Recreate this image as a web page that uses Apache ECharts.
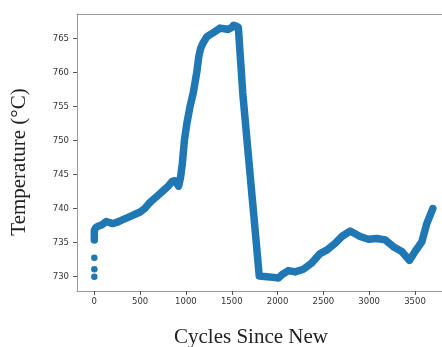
<!DOCTYPE html>
<html>
<head>
<meta charset="utf-8">
<script src="https://cdn.jsdelivr.net/npm/echarts@6/dist/echarts.min.js"></script>
<style>
  html, body { margin: 0; padding: 0; background: #fff; }
  #chart { width: 442px; height: 347px; }
</style>
</head>
<body>
<div id="chart"></div>
<script>
// cycles / temperature
const cycles = [0, 0, 5, 15, 40, 80, 130, 200, 250, 300, 350, 400, 450, 500, 550, 600, 650, 700, 750, 800, 850, 880, 900, 920, 940, 960, 983, 1010, 1045, 1080, 1118, 1140, 1160, 1190, 1227, 1260, 1296, 1340, 1372, 1420, 1460, 1500, 1520, 1550, 1572, 1620, 1680, 1740, 1800, 1882, 1954, 2009, 2045, 2118, 2191, 2282, 2373, 2464, 2537, 2628, 2701, 2792, 2901, 2992, 3083, 3174, 3264, 3356, 3439, 3501, 3574, 3629, 3694];
const temps = [735.4, 736.8, 737.0, 737.2, 737.4, 737.6, 738.1, 737.8, 738.0, 738.3, 738.6, 738.9, 739.2, 739.5, 740.0, 740.8, 741.4, 742.0, 742.6, 743.2, 744.0, 744.1, 743.9, 743.3, 744.5, 746.5, 750.0, 752.5, 755.0, 757.0, 760.0, 762.3, 763.5, 764.4, 765.2, 765.5, 765.8, 766.2, 766.5, 766.4, 766.3, 766.6, 766.9, 766.8, 766.6, 757.0, 748.0, 739.1, 730.1, 730.0, 729.9, 729.8, 730.25, 730.9, 730.7, 731.1, 732.0, 733.4, 733.9, 734.9, 735.9, 736.7, 735.9, 735.5, 735.6, 735.4, 734.4, 733.7, 732.4, 733.7, 735.1, 737.8, 740.0];
// the few early outliers at cycle 0
const outlierCycles = [0, 0, 0];
const outlierTemps = [730.0, 731.1, 732.8];

const xTicks = [0, 500, 1000, 1500, 2000, 2500, 3000, 3500];
const yTicks = [730, 735, 740, 745, 750, 755, 760, 765];

const blue = '#1f77b4';
const spine = '#999';
const myChart = echarts.init(document.getElementById('chart'));

const mainData = cycles.map((c, i) => [c, temps[i]]);
const outlierData = outlierCycles.map((c, i) => [c, outlierTemps[i]]);

const labelStyle = { fontFamily: 'DejaVu Sans', fontSize: 8.5, color: '#333', formatter: v => String(v) };

myChart.setOption({
  animation: false,
  // plot runs past the right edge of the picture (it was cropped there)
  grid: { left: 77, top: 14, bottom: 56, right: -8, outerBoundsMode: 'none', containLabel: false },
  xAxis: [
    {
      type: 'value', min: -189, max: 3882, position: 'bottom',
      splitLine: { show: false },
      axisLine: { show: true, onZero: false, lineStyle: { color: spine } },
      axisTick: { show: true, length: 4, customValues: xTicks, lineStyle: { color: '#555' } },
      axisLabel: Object.assign({ customValues: xTicks, margin: 6 }, labelStyle)
    },
    {
      // top spine only
      type: 'value', min: -189, max: 3882, position: 'top',
      splitLine: { show: false },
      axisLine: { show: true, onZero: false, lineStyle: { color: spine } },
      axisTick: { show: false },
      axisLabel: { show: false }
    }
  ],
  yAxis: {
    type: 'value', min: 727.9, max: 768.57,
    splitLine: { show: false },
    axisLine: { show: true, onZero: false, lineStyle: { color: spine } },
    axisTick: { show: true, length: 4, customValues: yTicks, lineStyle: { color: '#555' } },
    axisLabel: Object.assign({ customValues: yTicks, margin: 8 }, labelStyle)
  },
  graphic: [
    { type: 'text', x: 251, y: 337,
      style: { text: 'Cycles Since New', font: '21px "Liberation Serif"', fill: '#222', align: 'center', verticalAlign: 'middle' } },
    { type: 'text', x: 19, y: 162, rotation: Math.PI / 2,
      style: { text: 'Temperature (°C)', font: '21px "Liberation Serif"', fill: '#222', align: 'center', verticalAlign: 'middle' } }
  ],
  series: [
    {
      type: 'line', data: mainData, showSymbol: false, smooth: false,
      lineStyle: { color: blue, width: 7.5, cap: 'round', join: 'round' }
    },
    {
      type: 'scatter', data: outlierData, symbolSize: 6.5,
      itemStyle: { color: blue, opacity: 1 }
    }
  ]
});
</script>
</body>
</html>
